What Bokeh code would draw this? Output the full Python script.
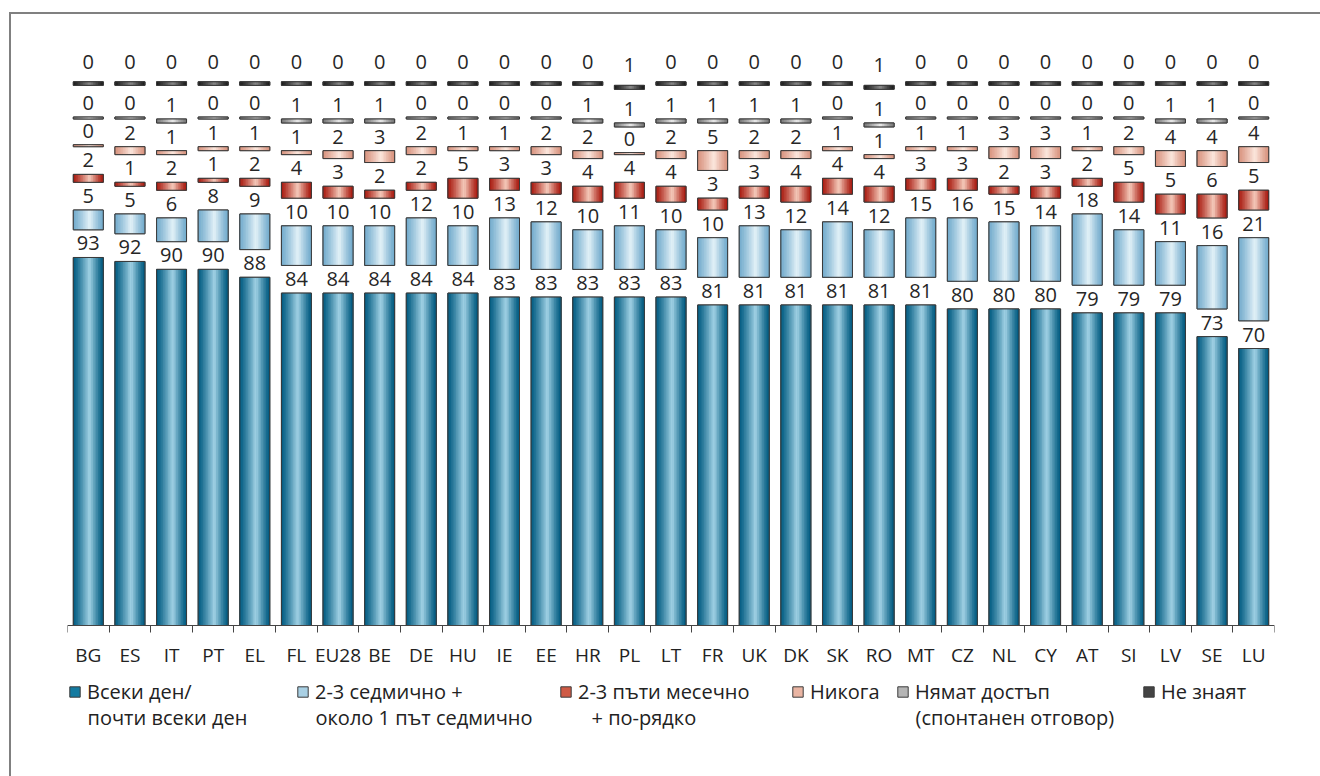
from bokeh.plotting import figure
from bokeh.models import ColumnDataSource, FixedTicker, Legend, LegendItem, Range1d, Label
from bokeh.embed import file_html
from bokeh.resources import INLINE
from bokeh.core.properties import value

countries = ["BG", "ES", "IT", "PT", "EL", "FL", "EU28", "BE", "DE", "HU", "IE", "EE", "HR", "PL", "LT",
             "FR", "UK", "DK", "SK", "RO", "MT", "CZ", "NL", "CY", "AT", "SI", "LV", "SE", "LU"]
daily = [93, 92, 90, 90, 88, 84, 84, 84, 84, 84, 83, 83, 83, 83, 83, 81, 81, 81, 81, 81, 81, 80, 80, 80, 79, 79, 79, 73, 70]
weekly = [5, 5, 6, 8, 9, 10, 10, 10, 12, 10, 13, 12, 10, 11, 10, 10, 13, 12, 14, 12, 15, 16, 15, 14, 18, 14, 11, 16, 21]
monthly = [2, 1, 2, 1, 2, 4, 3, 2, 2, 5, 3, 3, 4, 4, 4, 3, 3, 4, 4, 4, 3, 3, 2, 3, 2, 5, 5, 6, 5]
never = [0, 2, 1, 1, 1, 1, 2, 3, 2, 1, 1, 2, 2, 0, 2, 5, 2, 2, 1, 1, 1, 1, 3, 3, 1, 2, 4, 4, 4]
no_access = [0, 0, 1, 0, 0, 1, 1, 1, 0, 0, 0, 0, 1, 1, 1, 1, 1, 1, 0, 1, 0, 0, 0, 0, 0, 0, 1, 1, 0]
dont_know = [0, 0, 0, 0, 0, 0, 0, 0, 0, 0, 0, 0, 0, 1, 0, 0, 0, 0, 0, 1, 0, 0, 0, 0, 0, 0, 0, 0, 0]

series_labels = ["Всеки ден/", "2-3 седмично +", "2-3 пъти месечно", "Никога", "Нямат достъп", "Не знаят"]
series_labels_2 = ["почти всеки ден", "около 1 път седмично", "+ по-рядко", "", "(спонтанен отговор)", ""]
series_values = [daily, weekly, monthly, never, no_access, dont_know]

# style (edge colour, centre colour, mid colour for legend)
styles = [("#005a80", "#a3d3e6", "#137aa0"),
          ("#72abcc", "#e4f2f8", "#a9d0e4"),
          ("#a8190f", "#f6cdbd", "#cf5a45"),
          ("#d8937e", "#fce8df", "#eab5a3"),
          ("#767676", "#ececec", "#b5b5b5"),
          ("#1a1a1a", "#8c8c8c", "#444444")]
min_h = [0.5, 0.5, 0.5, 0.5, 0.5, 0.9]
gaps = [0.0, 7.0, 7.0, 7.0, 7.0, 8.5]
label_off = [-7, -7, -7, -7, -7, -13]
legend_x = [1, 229, 492, 724, 829, 1075]
line2_x = [20, 248, 524, 0, 848, 0]

BAR_W = 0.72
N_STRIPS = 18
PX_PER_UNIT = 3.957


def hex2rgb(h):
    h = h.lstrip("#")
    return tuple(int(h[i:i + 2], 16) for i in (0, 2, 4))


def mix(c1, c2, f):
    a, b = hex2rgb(c1), hex2rgb(c2)
    return "#%02x%02x%02x" % tuple(int(round(a[i] + (b[i] - a[i]) * f)) for i in range(3))


xs = list(range(len(countries)))

FRAME_H = 690
y_top = 585 / PX_PER_UNIT
y_bot = -(FRAME_H - 585) / PX_PER_UNIT

p = figure(frame_width=1207, frame_height=FRAME_H,
           min_border_left=56, min_border_right=48, min_border_top=26, min_border_bottom=46,
           x_range=Range1d(-0.5, 28.5), y_range=Range1d(y_bot, y_top),
           y_axis_location=None, toolbar_location=None, output_backend="svg",
           background_fill_color="white", border_fill_color="white")
p.margin = (12, 0, 0, 9)
p.styles = {"border-top": "2px solid #808080", "border-left": "2px solid #808080"}
p.outline_line_color = None
p.grid.visible = False

cum = [0.0] * len(countries)
for k, vals in enumerate(series_values):
    edge, centre, mid = styles[k]
    bottoms = [cum[i] + gaps[k] for i in xs]
    heights = [max(v, min_h[k]) for v in vals]
    tops = [bottoms[i] + heights[i] for i in xs]
    cum = [bottoms[i] + vals[i] for i in xs]

    base = p.vbar(x=xs, bottom=bottoms, top=tops, width=BAR_W,
                  fill_color=mid, line_color="#3a3a3a", line_width=1)

    sx, sb, st, sc = [], [], [], []
    for s in range(N_STRIPS):
        t = (s + 0.5) / N_STRIPS
        pk = 0.55
        d = abs(t - pk) / (pk if t < pk else 1 - pk)
        f = (1 - d) ** 1.2
        col = mix(edge, centre, f)
        off = -BAR_W / 2 + (s + 0.5) * BAR_W / N_STRIPS
        for i in xs:
            sx.append(i + off)
            sb.append(bottoms[i])
            st.append(tops[i])
            sc.append(col)
    p.vbar(x="x", bottom="b", top="t", width=BAR_W / N_STRIPS * 1.35, fill_color="c",
           line_color=None, source=ColumnDataSource(dict(x=sx, b=sb, t=st, c=sc)))
    p.vbar(x=xs, bottom=bottoms, top=tops, width=BAR_W, fill_color=None,
           line_color="#3a3a3a", line_width=1)

    lab = ColumnDataSource(dict(x=xs, y=tops, t=[str(v) for v in vals]))
    p.text(x="x", y="y", text="t", source=lab, text_align="center", text_baseline="bottom",
           y_offset=label_off[k], text_font=value("Open Sans"), text_font_size="20px",
           text_color="#262626")

    leg = Legend(items=[LegendItem(label=series_labels[k], renderers=[base])],
                 location=(legend_x[k], 25), padding=0, margin=0, spacing=0,
                 border_line_color=None, background_fill_alpha=0,
                 glyph_width=13, glyph_height=13, label_standoff=6,
                 label_text_font="Open Sans", label_text_font_size="20px",
                 label_text_color="#222222")
    p.add_layout(leg)
    if series_labels_2[k]:
        p.add_layout(Label(x=line2_x[k], y=13, x_units="screen", y_units="screen",
                           text=series_labels_2[k], text_baseline="middle", text_align="left",
                           text_font="Open Sans", text_font_size="20px", text_color="#222222"))

ax = p.xaxis[0]
ax.fixed_location = 0
ax.ticker = FixedTicker(ticks=xs, minor_ticks=[i - 0.5 for i in range(len(countries) + 1)])
ax.major_label_overrides = {i: c for i, c in enumerate(countries)}
ax.major_tick_out = 0
ax.major_tick_in = 0
ax.minor_tick_out = 7
ax.minor_tick_in = 0
ax.minor_tick_line_color = "#444444"
ax.axis_line_color = "#444444"
ax.major_label_standoff = 9
ax.major_label_text_font = "Open Sans"
ax.major_label_text_font_size = "19px"
ax.major_label_text_color = "#222222"

open("out.html", "w").write(file_html(p, INLINE))
